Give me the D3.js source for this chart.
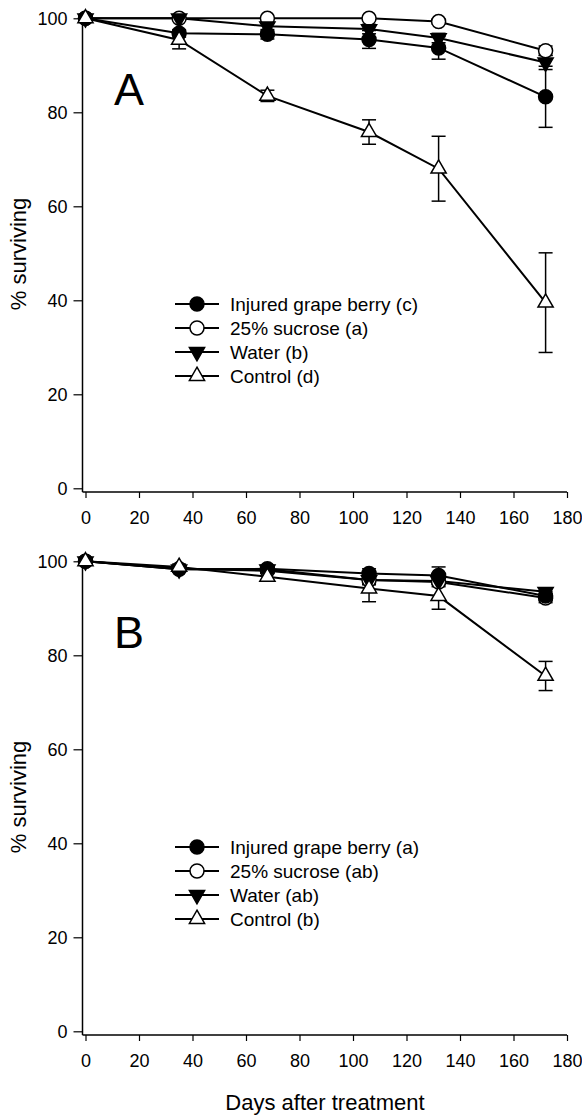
<!DOCTYPE html>
<html lang="en">
<head>
  <meta charset="UTF-8">
  <title>Survival after treatment</title>
  <script src="https://d3js.org/d3.v7.min.js"></script>
  <style>
    body { margin: 0; background: #fff; font-family: "Liberation Sans", Arial, sans-serif; }
    svg text { fill: #000; }
  </style>
</head>
<body>
  <div id="chart"></div>
  <script>
    // Sampling days (same for both panels)
    const days = [0, 35, 68, 106, 132, 172];
    const xTicks = [0, 20, 40, 60, 80, 100, 120, 140, 160, 180];
    const yTicks = [0, 20, 40, 60, 80, 100];

    // Panel A: % surviving and error (+/-)
    const injuredA = [100, 96.8, 96.6, 95.5, 93.7, 83.3];
    const injuredAErr = [0, 0.8, 1, 1.9, 2.4, 6.5];
    const sucroseA = [100, 100, 100, 100, 99.3, 93.1];
    const sucroseAErr = [0, 0, 0, 0, 0.5, 1];
    const waterA = [100, 100, 98.3, 97.7, 95.8, 90.6];
    const waterAErr = [0, 0, 1, 1, 1, 1.5];
    const controlA = [100, 95.4, 83.5, 75.8, 68, 39.5];
    const controlAErr = [0, 1.9, 1.2, 2.6, 6.9, 10.6];

    // Panel B
    const injuredB = [100, 98.3, 98.4, 97.4, 97.0, 92.6];
    const injuredBErr = [0, 0.5, 0.8, 1, 1.8, 1];
    const sucroseB = [100, 98.4, 98.0, 96.0, 95.6, 92.2];
    const sucroseBErr = [0, 0.5, 0.5, 1, 1, 1];
    const waterB = [100, 98.3, 98.3, 96.0, 95.8, 93.5];
    const waterBErr = [0, 0.5, 0.5, 0.8, 0.8, 0.8];
    const controlB = [100, 98.8, 96.7, 94.2, 92.6, 75.6];
    const controlBErr = [0, 0.6, 0.8, 2.8, 2.8, 3.1];

    const legendA = ['Injured grape berry (c)', '25% sucrose (a)', 'Water (b)', 'Control (d)'];
    const legendB = ['Injured grape berry (a)', '25% sucrose (ab)', 'Water (ab)', 'Control (b)'];

    const width = 582, height = 1116;
    const svg = d3.select('#chart').append('svg')
      .attr('width', width).attr('height', height);

    const x = d3.scaleLinear().domain([0, 180]).range([85.5, 567]);
    const axisX = 82.5;

    // marker styles per series
    const styles = {
      injured: { shape: 'circle', fill: '#000' },
      sucrose: { shape: 'circle', fill: '#fff' },
      water:   { shape: 'down', fill: '#000' },
      control: { shape: 'up', fill: '#fff' }
    };

    function marker(sel, shape, fill) {
      if (shape === 'circle') {
        sel.append('circle').attr('r', 7);
      } else {
        const tri = d3.symbol().type(d3.symbolTriangle).size(100)();
        sel.append('path').attr('d', tri)
          .attr('transform', shape === 'down' ? 'rotate(180)' : null);
      }
      sel.selectAll('circle, path')
        .attr('fill', fill).attr('stroke', '#000').attr('stroke-width', 1.5);
    }

    function drawPanel(off, letter, series, labels) {
      const y = d3.scaleLinear().domain([0, 100]).range([488.3 + off, 18.3 + off]);
      const baseY = 492 + off;
      const g = svg.append('g');

      // axes
      g.append('line').attr('x1', axisX).attr('x2', axisX)
        .attr('y1', y(100)).attr('y2', baseY)
        .attr('stroke', '#000').attr('stroke-width', 1.5);
      g.append('line').attr('x1', axisX).attr('x2', x(180))
        .attr('y1', baseY).attr('y2', baseY)
        .attr('stroke', '#000').attr('stroke-width', 1.5);

      const ya = g.append('g').attr('transform', `translate(${axisX},0)`)
        .call(d3.axisLeft(y).tickValues(yTicks).tickSize(9).tickPadding(6));
      const xa = g.append('g').attr('transform', `translate(0,${baseY})`)
        .call(d3.axisBottom(x).tickValues(xTicks).tickSize(6).tickPadding(13));
      [ya, xa].forEach(a => {
        a.select('.domain').remove();
        a.selectAll('line').attr('stroke', '#000').attr('stroke-width', 1.2);
        a.selectAll('text').attr('font-size', 18)
          .attr('font-family', '"Liberation Sans", Arial, sans-serif').attr('fill', '#000');
      });

      // y title
      g.append('text')
        .attr('transform', `translate(26,${254 + off}) rotate(-90)`)
        .attr('text-anchor', 'middle').attr('font-size', 22)
        .text('% surviving');

      // panel letter
      g.append('text').attr('x', 114).attr('y', 105 + off)
        .attr('font-size', 45).text(letter);

      const line = d3.line().x((d, i) => x(days[i])).y(d => y(d));

      // lines
      series.forEach(s => {
        g.append('path').datum(s.values)
          .attr('d', line).attr('fill', 'none')
          .attr('stroke', '#000').attr('stroke-width', 2);
      });

      // error bars
      series.forEach(s => {
        s.values.forEach((v, i) => {
          const e = s.err[i];
          if (!e) return;
          const cx = x(days[i]);
          g.append('line').attr('x1', cx).attr('x2', cx)
            .attr('y1', y(v - e)).attr('y2', y(v + e))
            .attr('stroke', '#000').attr('stroke-width', 1.5);
          [v - e, v + e].forEach(t => {
            g.append('line').attr('x1', cx - 7).attr('x2', cx + 7)
              .attr('y1', y(t)).attr('y2', y(t))
              .attr('stroke', '#000').attr('stroke-width', 1.5);
          });
        });
      });

      // markers
      series.forEach(s => {
        const st = styles[s.key];
        s.values.forEach((v, i) => {
          const m = g.append('g').attr('transform', `translate(${x(days[i])},${y(v)})`);
          marker(m, st.shape, st.fill);
        });
      });

      // legend
      const order = ['injured', 'sucrose', 'water', 'control'];
      const lg = g.append('g');
      order.forEach((k, i) => {
        const ry = 304 + off + i * 24;
        lg.append('line').attr('x1', 175).attr('x2', 219)
          .attr('y1', ry).attr('y2', ry)
          .attr('stroke', '#000').attr('stroke-width', 2);
        const m = lg.append('g').attr('transform', `translate(197,${ry})`);
        marker(m, styles[k].shape, styles[k].fill);
        lg.append('text').attr('x', 230).attr('y', ry).attr('dy', '0.35em')
          .attr('font-size', 19).text(labels[i]);
      });
    }

    drawPanel(0, 'A', [
      { key: 'sucrose', values: sucroseA, err: sucroseAErr },
      { key: 'water', values: waterA, err: waterAErr },
      { key: 'injured', values: injuredA, err: injuredAErr },
      { key: 'control', values: controlA, err: controlAErr }
    ], legendA);

    drawPanel(543, 'B', [
      { key: 'sucrose', values: sucroseB, err: sucroseBErr },
      { key: 'water', values: waterB, err: waterBErr },
      { key: 'injured', values: injuredB, err: injuredBErr },
      { key: 'control', values: controlB, err: controlBErr }
    ], legendB);

    // shared x title
    svg.append('text').attr('x', 325).attr('y', 1110)
      .attr('text-anchor', 'middle').attr('font-size', 22)
      .text('Days after treatment');
  </script>
</body>
</html>
